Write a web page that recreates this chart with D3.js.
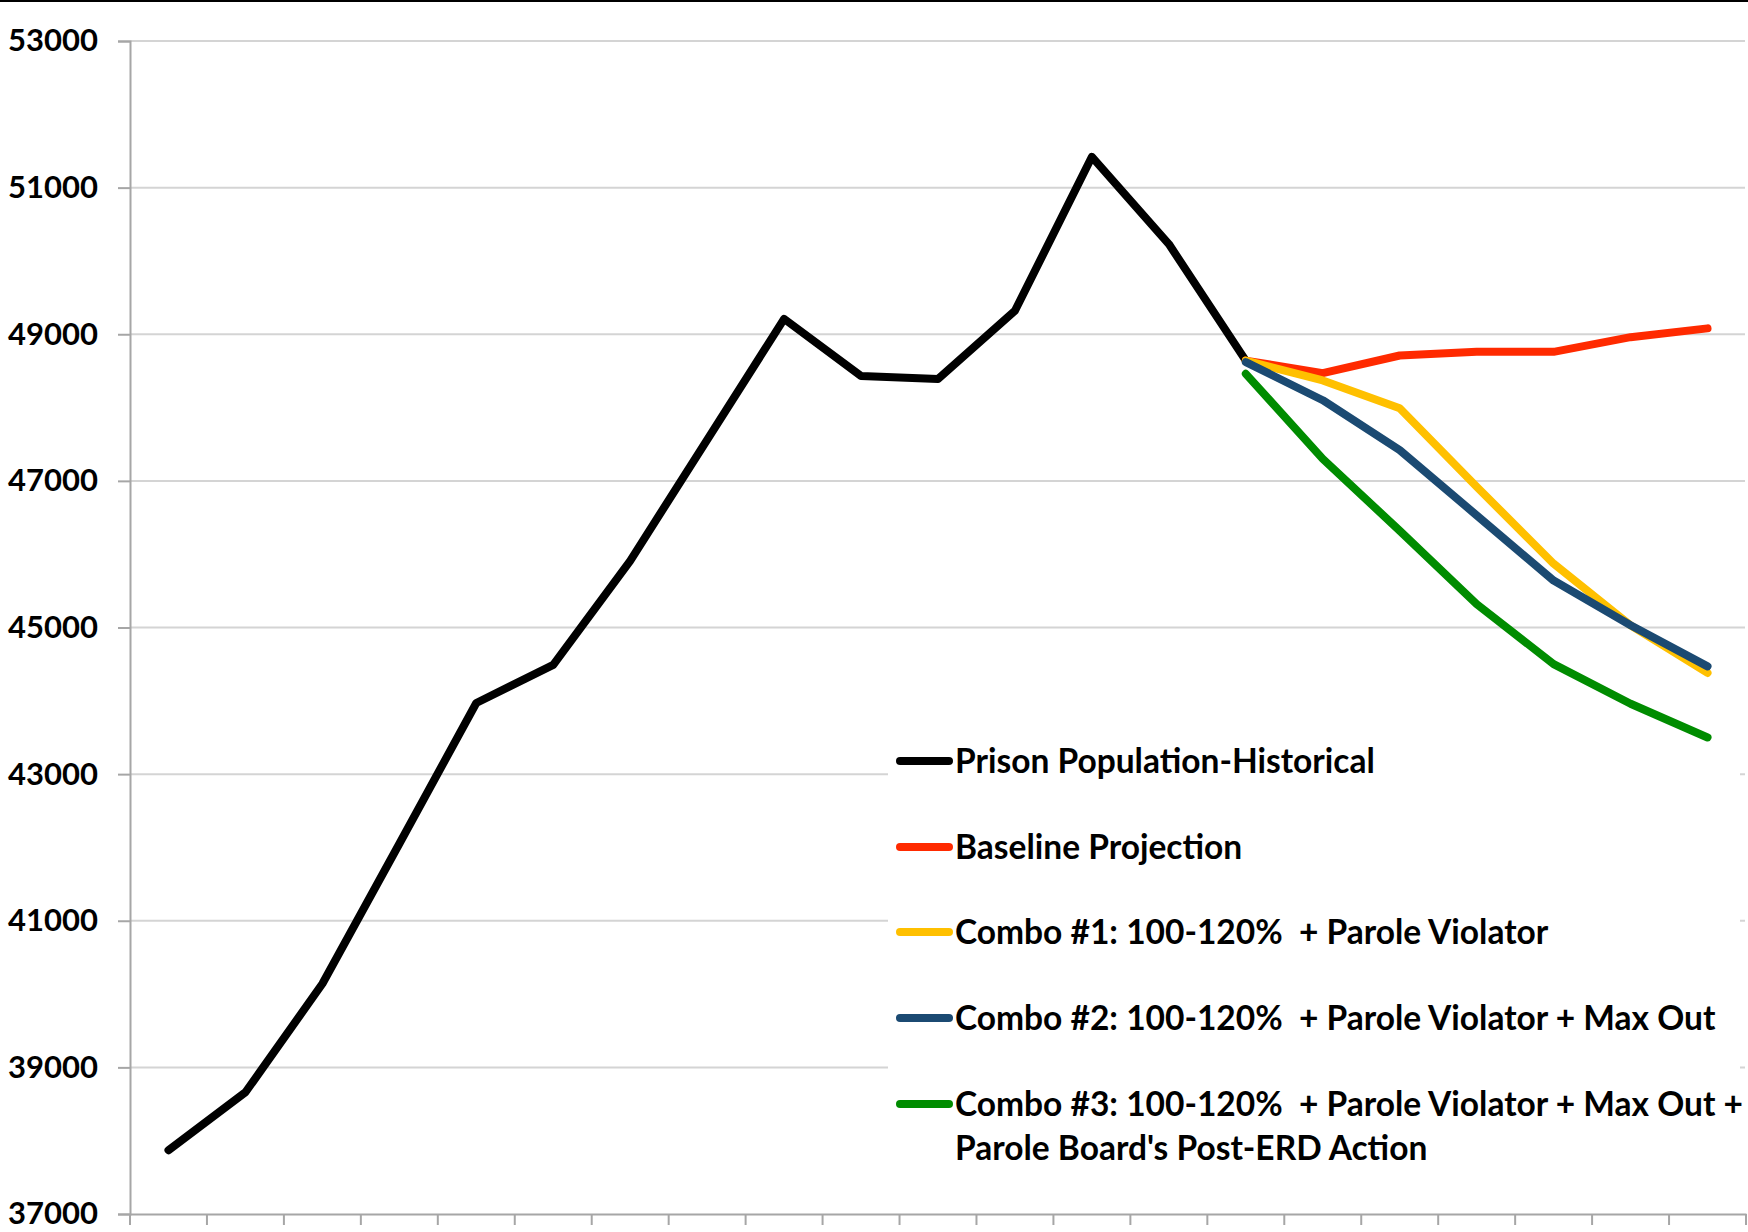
<!DOCTYPE html>
<html>
<head>
<meta charset="utf-8">
<script src="https://cdn.jsdelivr.net/npm/d3@7"></script>
<style>
  html, body { margin: 0; padding: 0; background: #fff; }
  svg { display: block; }
</style>
</head>
<body>
<svg id="chart" width="1748" height="1232"></svg>
<script>
// ---- data ----
const categories = ["1","2","3","4","5","6","7","8","9","10","11","12","13","14","15","16","17","18","19","20","21"];
const yTicks = [37000, 39000, 41000, 43000, 45000, 47000, 49000, 51000, 53000];

const historical = [37870, 38660, 40140, 42050, 43970, 44490, 45910, 47560, 49210, 48430, 48390, 49320, 51420, 50230, 48640,
                    null, null, null, null, null, null];
const baseline   = [null, null, null, null, null, null, null, null, null, null, null, null, null, null,
                    48640, 48470, 48710, 48760, 48760, 48960, 49080];
const combo1     = [null, null, null, null, null, null, null, null, null, null, null, null, null, null,
                    48640, 48370, 47990, 46920, 45870, 45030, 44380];
const combo2     = [null, null, null, null, null, null, null, null, null, null, null, null, null, null,
                    48620, 48100, 47420, 46530, 45640, 45030, 44470];
const combo3     = [null, null, null, null, null, null, null, null, null, null, null, null, null, null,
                    48460, 47300, 46320, 45320, 44500, 43960, 43500];

const seriesNames = [
  ["Prison Population-Historical"],
  ["Baseline Projection"],
  ["Combo #1: 100-120%  + Parole Violator"],
  ["Combo #2: 100-120%  + Parole Violator + Max Out"],
  ["Combo #3: 100-120%  + Parole Violator + Max Out +", "Parole Board's Post-ERD Action"]
];
const seriesColors = ["#000000", "#ff2a00", "#ffc000", "#1b4a72", "#008c00"];
const seriesValues = [historical, baseline, combo1, combo2, combo3];

// ---- layout ----
const svg = d3.select("#chart");
const plotLeft = 130, plotRight = 1746, plotTop = 41, plotBottom = 1214;

const x = d3.scaleBand().domain(categories).range([plotLeft, plotRight]).padding(0);
const y = d3.scaleLinear().domain([37000, 53000]).range([plotBottom, plotTop]);

// top border
svg.append("rect").attr("x", 0).attr("y", 0).attr("width", 1748).attr("height", 2).attr("fill", "#000");

// gridlines
svg.append("g")
  .selectAll("line")
  .data(yTicks.filter(d => d !== 37000))
  .join("line")
  .attr("x1", plotLeft).attr("x2", plotRight - 1)
  .attr("y1", d => y(d)).attr("y2", d => y(d))
  .attr("stroke", "#d4d4d4").attr("stroke-width", 2);

// y axis
const yAxis = d3.axisLeft(y).tickValues(yTicks).tickSize(12).tickPadding(20).tickFormat(d3.format("d"));
const gy = svg.append("g").attr("transform", `translate(${plotLeft},0)`).call(yAxis);
gy.select(".domain").attr("stroke", "#a6a6a6").attr("stroke-width", 2);
gy.selectAll(".tick line").attr("stroke", "#a6a6a6").attr("stroke-width", 2);
gy.selectAll(".tick text")
  .attr("font-family", "Lato, 'Open Sans', sans-serif")
  .attr("font-size", 31).attr("font-weight", "bold").attr("fill", "#000");

// x axis
const xAxis = d3.axisBottom(x).tickSize(0).tickFormat("");
const gx = svg.append("g").attr("transform", `translate(0,${plotBottom})`).call(xAxis);
gx.select(".domain").attr("stroke", "#a6a6a6").attr("stroke-width", 2);
const boundaries = categories.map(c => x(c)).concat([x(categories[categories.length - 1]) + x.bandwidth()]);
gx.append("g").selectAll("line").data(boundaries).join("line")
  .attr("x1", d => d).attr("x2", d => d).attr("y1", 0).attr("y2", 11)
  .attr("stroke", "#a6a6a6").attr("stroke-width", 2);

// lines
const line = d3.line()
  .defined(d => d.v !== null)
  .x(d => x(d.c) + x.bandwidth() / 2)
  .y(d => y(d.v));

seriesValues.forEach((vals, i) => {
  svg.append("path")
    .datum(vals.map((v, j) => ({ c: categories[j], v })))
    .attr("d", line)
    .attr("fill", "none")
    .attr("stroke", seriesColors[i])
    .attr("stroke-width", 8)
    .attr("stroke-linejoin", "round")
    .attr("stroke-linecap", "round");
});

// legend
const lg = svg.append("g");
lg.append("rect").attr("x", 888).attr("y", 746).attr("width", 852).attr("height", 440).attr("fill", "#fff");
const legendY = [761, 847, 932, 1018, 1104];
seriesNames.forEach((lines, i) => {
  const yy = legendY[i];
  lg.append("line").attr("x1", 900).attr("x2", 949).attr("y1", yy).attr("y2", yy)
    .attr("stroke", seriesColors[i]).attr("stroke-width", 8).attr("stroke-linecap", "round");
  lines.forEach((t, k) => {
    lg.append("text")
      .attr("x", 955).attr("y", yy + k * 44)
      .attr("dy", "0.35em")
      .attr("font-family", "Lato, 'Open Sans', sans-serif")
      .attr("font-size", 33.5).attr("font-weight", "bold")
      .attr("fill", "#000")
      .style("white-space", "pre")
      .text(t);
  });
});
</script>
</body>
</html>
